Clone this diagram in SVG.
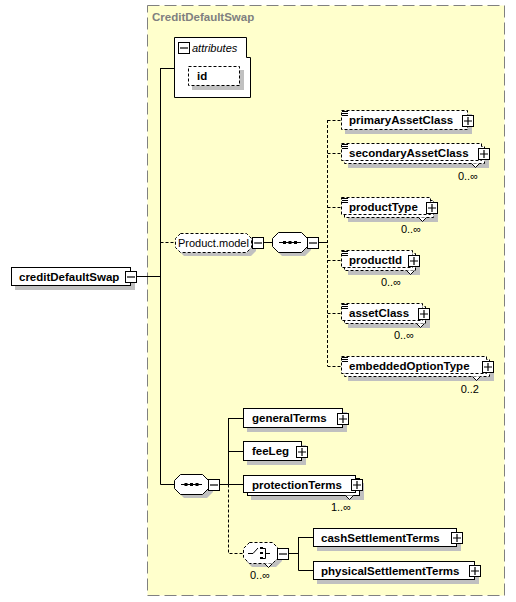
<svg xmlns="http://www.w3.org/2000/svg" width="516" height="602" viewBox="0 0 516 602">
<style>
.t{font-family:"Liberation Sans",Arial,sans-serif;font-size:11.5px;font-weight:bold;fill:#000}
.r{font-family:"Liberation Sans",Arial,sans-serif;font-size:11px;fill:#000}
.o{font-family:"Liberation Sans",Arial,sans-serif;font-size:11px;fill:#000;text-anchor:end}
.box{fill:#fff;stroke:#000;stroke-width:1}
.dbox{fill:#fff;stroke:#000;stroke-width:1;stroke-dasharray:3,2}
.sh{fill:#c0c0c0}
.ln{stroke:#000;stroke-width:1;fill:none}
.dl{stroke:#000;stroke-width:1;fill:none;stroke-dasharray:3,2}
</style>
<defs>
<g id="plus"><rect x="0.5" y="0.5" width="11" height="11" fill="#fff" stroke="#000"/><path d="M2,6H10M6,2V10" stroke="#000" stroke-width="1.2"/></g>
<g id="minus"><rect x="0.5" y="0.5" width="11" height="11" fill="#fff" stroke="#000"/><path d="M2,6H10" stroke="#000" stroke-width="1.2"/></g>
<g id="simple"><path d="M1,1.5H7M1,3.5H7M1,5.5H7" stroke="#000" stroke-width="1"/></g>
</defs>

<rect x="147.5" y="5.5" width="357" height="590" fill="#ffffcc" stroke="#808080" stroke-dasharray="12,5"/>
<text x="152" y="21" font-family="Liberation Sans, Arial, sans-serif" font-size="11.5" font-weight="bold" fill="#808080">CreditDefaultSwap</text>

<g id="connectors">
<path class="ln" d="M136,276.5H160.5M160.5,68V484.5M160.5,68.5H174"/>
<path class="dl" d="M160.5,242.5H175"/>
<path class="ln" d="M263,242.5H272M318,242.5H327"/>
<path class="dl" d="M327.5,120V366M327.5,120.5H341M327.5,153.5H341M327.5,207.5H341M327.5,260.5H341M327.5,313.5H341M327.5,366.5H341"/>
<path class="ln" d="M160.5,484.5H174M219,484.5H228.5M228.5,418V484.5M228.5,418.5H243M228.5,451.5H243M228.5,484.5H243"/>
<path class="dl" d="M228.5,484.5V553.5H243"/>
<path class="ln" d="M288,553.5H298.5M298.5,537V570.5M298.5,537.5H313M298.5,570.5H313"/>
</g>

<g id="creditDefaultSwap">
<rect class="sh" x="15" y="271" width="120" height="19"/>
<rect class="box" x="11.5" y="267.5" width="119" height="18"/>
<text class="t" x="19" y="281">creditDefaultSwap</text>
<use href="#minus" x="125" y="271"/>
</g>

<g id="attributes">
<path class="box" d="M174.5,37.5H246.5V57.5H250.5V97.5H174.5Z"/>
<use href="#minus" x="178" y="42"/>
<text x="192" y="52" font-family="Liberation Sans, Arial, sans-serif" font-size="11" font-style="italic">attributes</text>
<rect class="sh" x="192" y="70" width="52" height="20"/>
<rect class="dbox" x="188.5" y="66.5" width="51" height="19"/>
<text class="t" x="197" y="80">id</text>
</g>

<g id="Product.model">
<path class="sh" d="M184,237H251L256,242V251L251,256H184L179,251V242Z"/>
<path class="dbox" d="M180.5,233.5H246.5L251.5,238.5V247.5L246.5,252.5H180.5L175.5,247.5V238.5Z"/>
<text class="r" x="178" y="246.5">Product.model</text>
<use href="#minus" x="252" y="237"/>
</g>

<g id="sequence1">
<path class="sh" d="M282,236H305L311,242V250L305,256H282L276,250V242Z"/>
<path class="box" d="M278.5,232.5H301.5L307.5,238.5V246.5L301.5,252.5H278.5L272.5,246.5V238.5Z"/>
<path class="ln" d="M279,242.5H301"/>
<rect x="283" y="241" width="3" height="3"/><rect x="288.5" y="241" width="3" height="3"/><rect x="294" y="241" width="3" height="3"/>
<use href="#minus" x="307" y="237"/>
</g>

<g id="primaryAssetClass">
<rect class="sh" x="345" y="114" width="127" height="20"/>
<rect class="dbox" x="341.5" y="110.5" width="126" height="19"/>
<use href="#simple" x="341" y="110"/>
<text class="t" x="349" y="124">primaryAssetClass</text>
<use href="#plus" x="462" y="115"/>
</g>

<g id="secondaryAssetClass">
<rect class="sh" x="348" y="150" width="141" height="18"/>
<rect class="dbox" x="344.5" y="146.5" width="140" height="17"/>
<rect class="dbox" x="341.5" y="143.5" width="140" height="17"/>
<path class="box" d="M471.5,163.5L475.5,167.5L479.5,163.5"/>
<use href="#simple" x="341" y="143"/>
<text class="t" x="349" y="157">secondaryAssetClass</text>
<use href="#plus" x="478" y="148"/>
<text class="o" x="478" y="180">0..∞</text>
</g>

<g id="productType">
<rect class="sh" x="348" y="204" width="90" height="18"/>
<rect class="dbox" x="344.5" y="200.5" width="89" height="17"/>
<rect class="dbox" x="341.5" y="197.5" width="89" height="17"/>
<path class="box" d="M418.5,217.5L422.5,221.5L426.5,217.5"/>
<use href="#simple" x="341" y="197"/>
<text class="t" x="349" y="211">productType</text>
<use href="#plus" x="426" y="202"/>
<text class="o" x="421" y="233">0..∞</text>
</g>

<g id="productId">
<rect class="sh" x="348" y="257" width="72" height="18"/>
<rect class="dbox" x="344.5" y="253.5" width="71" height="17"/>
<rect class="dbox" x="341.5" y="250.5" width="71" height="17"/>
<path class="box" d="M406.5,270.5L410.5,274.5L414.5,270.5"/>
<use href="#simple" x="341" y="250"/>
<text class="t" x="349" y="264">productId</text>
<use href="#plus" x="408" y="255"/>
<text class="o" x="401" y="286">0..∞</text>
</g>

<g id="assetClass">
<rect class="sh" x="348" y="310" width="82" height="18"/>
<rect class="dbox" x="344.5" y="306.5" width="81" height="17"/>
<rect class="dbox" x="341.5" y="303.5" width="81" height="17"/>
<path class="box" d="M416.5,323.5L420.5,327.5L424.5,323.5"/>
<use href="#simple" x="341" y="303"/>
<text class="t" x="349" y="317">assetClass</text>
<use href="#plus" x="418" y="308"/>
<text class="o" x="414" y="339">0..∞</text>
</g>

<g id="embeddedOptionType">
<rect class="sh" x="348" y="363" width="146" height="18"/>
<rect class="dbox" x="344.5" y="359.5" width="145" height="17"/>
<rect class="dbox" x="341.5" y="356.5" width="145" height="17"/>
<path class="box" d="M472.5,376.5L476.5,380.5L480.5,376.5"/>
<use href="#simple" x="341" y="356"/>
<text class="t" x="349" y="370">embeddedOptionType</text>
<use href="#plus" x="482" y="361"/>
<text class="o" x="479" y="393">0..2</text>
</g>

<g id="sequence2">
<path class="sh" d="M184,478H207L213,484V492L207,498H184L178,492V484Z"/>
<path class="box" d="M180.5,474.5H202.5L208.5,480.5V488.5L202.5,494.5H180.5L174.5,488.5V480.5Z"/>
<path class="ln" d="M181,484.5H202"/>
<rect x="184.5" y="483" width="3" height="3"/><rect x="190" y="483" width="3" height="3"/><rect x="195.5" y="483" width="3" height="3"/>
<use href="#minus" x="208" y="479"/>
</g>

<g id="generalTerms">
<rect class="sh" x="247" y="412" width="100" height="20"/>
<rect class="box" x="243.5" y="408.5" width="99" height="19"/>
<text class="t" x="252" y="422">generalTerms</text>
<use href="#plus" x="337" y="413"/>
</g>

<g id="feeLeg">
<rect class="sh" x="247" y="445" width="59" height="20"/>
<rect class="box" x="243.5" y="441.5" width="58" height="19"/>
<text class="t" x="252" y="455">feeLeg</text>
<use href="#plus" x="296" y="446"/>
</g>

<g id="protectionTerms">
<rect class="sh" x="251" y="483" width="113" height="17"/>
<rect class="box" x="247.5" y="478.5" width="112" height="17"/>
<rect class="box" x="243.5" y="475.5" width="112" height="17"/>
<path class="box" d="M345.5,495.5L349.5,499.5L353.5,495.5"/>
<text class="t" x="252" y="489">protectionTerms</text>
<use href="#plus" x="351" y="479"/>
<text class="o" x="351" y="511">1..∞</text>
</g>

<g id="choice">
<path class="sh" d="M252,546H276L282,552V561L276,567H252L246,561V552Z"/>
<path class="dbox" d="M249.5,542.5H272.5L278.5,548.5V557.5L272.5,563.5H249.5L243.5,557.5V548.5Z"/>
<path class="box" d="M264.5,563.5L268.5,567.5L272.5,563.5"/>
<path class="ln" d="M248,553.5H253L258,548"/>
<rect x="260" y="547" width="3" height="2"/><rect x="260" y="552" width="3" height="2"/><rect x="260" y="557" width="3" height="2"/>
<path class="ln" d="M263,548.5H265.5V558.5H263M265.5,553.5H270"/>
<use href="#minus" x="277" y="548"/>
<text class="r" x="250" y="579">0..∞</text>
</g>

<g id="cashSettlementTerms">
<rect class="sh" x="317" y="532" width="144" height="19"/>
<rect class="box" x="313.5" y="528.5" width="143" height="18"/>
<text class="t" x="321" y="542">cashSettlementTerms</text>
<use href="#plus" x="451" y="532"/>
</g>

<g id="physicalSettlementTerms">
<rect class="sh" x="317" y="565" width="162" height="19"/>
<rect class="box" x="313.5" y="561.5" width="161" height="18"/>
<text class="t" x="321" y="575">physicalSettlementTerms</text>
<use href="#plus" x="469" y="565"/>
</g>
</svg>
